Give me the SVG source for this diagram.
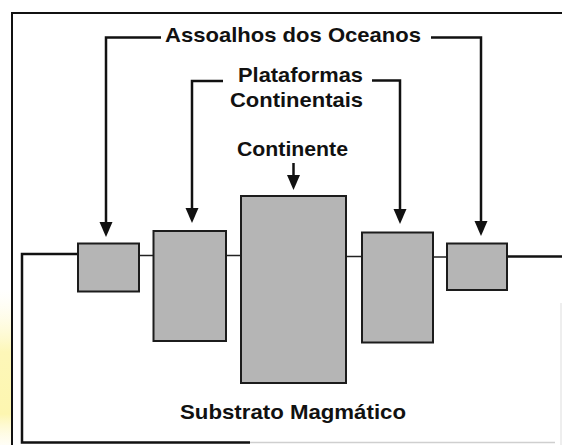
<svg xmlns="http://www.w3.org/2000/svg" width="562" height="445" viewBox="0 0 562 445">
  <defs>
    <style>
      .lbl { font-family: "Liberation Sans", Arial, sans-serif; font-weight: bold; font-size: 21px; fill: #111; }
      .box { fill: #b5b5b5; stroke: #1c1c1c; stroke-width: 2; }
      .lead { fill: none; stroke: #111; stroke-width: 2.5; }
      .head { fill: #111; }
      .thin { fill: none; stroke: #222; stroke-width: 1.5; }
      .thick { fill: none; stroke: #111; stroke-width: 2.5; }
    </style>
    <linearGradient id="yel" x1="0" y1="0" x2="0" y2="1">
      <stop offset="0" stop-color="#fffbe0" stop-opacity="0"/>
      <stop offset="0.4" stop-color="#fdf7b8"/>
      <stop offset="0.8" stop-color="#fdf6b0"/>
      <stop offset="1" stop-color="#fffbe0" stop-opacity="0.3"/>
    </linearGradient>
  </defs>
  <rect x="0" y="0" width="562" height="445" fill="#ffffff"/>
  <rect x="0" y="290" width="12" height="155" fill="url(#yel)"/>

  <g id="frame">
    <path d="M12,445 L12,13 L562,13" fill="none" stroke="#111" stroke-width="2"/>
    <path d="M561,303 L561,445" fill="none" stroke="#dddddd" stroke-width="1"/>
  </g>

  <g id="connectors">
    <path class="lead" d="M161,37.5 L106,37.5 L106,227"/>
    <path class="head" d="M99.5,222 L112.5,222 L106,237 Z"/>
    <path class="lead" d="M431,37.5 L481,37.5 L481,226"/>
    <path class="head" d="M474.5,221 L487.5,221 L481,236 Z"/>
    <path class="lead" d="M223,81 L192,81 L192,213"/>
    <path class="head" d="M185.5,208 L198.5,208 L192,223 Z"/>
    <path class="lead" d="M372,80.5 L400,80.5 L400,214"/>
    <path class="head" d="M393.5,209 L406.5,209 L400,224 Z"/>
    <path class="lead" d="M293.5,163 L293.5,180"/>
    <path class="head" d="M287,175 L300,175 L293.5,190 Z"/>
    <path class="thick" d="M78,254 L22,254 L22,442.5 L250,442.5"/>
    <path d="M250,442.5 L555,442.5" fill="none" stroke="#cfcfcf" stroke-width="1.5"/>
    <path class="thin" d="M139,255.5 L153,255.5"/>
    <path class="thin" d="M226,255.5 L241,255.5"/>
    <path class="thin" d="M346,256.5 L362,256.5"/>
    <path class="thin" d="M433,257 L447,257"/>
    <path class="thick" d="M507,256.5 L562,256.5"/>
  </g>

  <g id="oceano-esq">
    <rect class="box" x="78" y="243.5" width="61" height="48"/>
  </g>
  <g id="plataforma-esq">
    <rect class="box" x="153.5" y="231" width="72.5" height="110"/>
  </g>
  <g id="continente">
    <rect class="box" x="241" y="196" width="105" height="187"/>
  </g>
  <g id="plataforma-dir">
    <rect class="box" x="362" y="232.5" width="71" height="110"/>
  </g>
  <g id="oceano-dir">
    <rect class="box" x="447" y="243.5" width="60" height="46.5"/>
  </g>

  <g id="label-assoalhos">
    <text class="lbl" x="165" y="42" textLength="256" lengthAdjust="spacingAndGlyphs">Assoalhos dos Oceanos</text>
  </g>
  <g id="label-plataformas">
    <text class="lbl" x="238" y="81.5" textLength="125" lengthAdjust="spacingAndGlyphs">Plataformas</text>
    <text class="lbl" x="230" y="106.5" textLength="133" lengthAdjust="spacingAndGlyphs">Continentais</text>
  </g>
  <g id="label-continente">
    <text class="lbl" x="237" y="156" textLength="111" lengthAdjust="spacingAndGlyphs">Continente</text>
  </g>
  <g id="label-substrato">
    <text class="lbl" x="180" y="418.5" textLength="226" lengthAdjust="spacingAndGlyphs">Substrato Magmático</text>
  </g>
</svg>
